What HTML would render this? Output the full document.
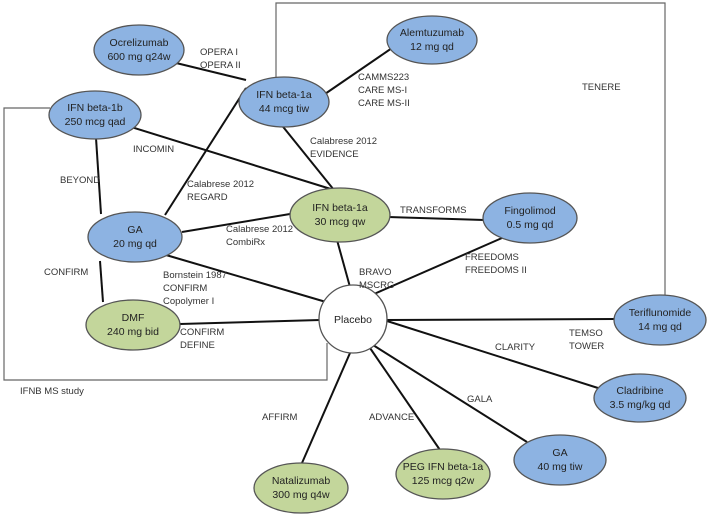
<!DOCTYPE html>
<html><head><meta charset="utf-8"><style>
html,body{margin:0;padding:0;background:#fff}
svg{display:block}
text{font-family:"Liberation Sans",sans-serif;font-size:9.5px;fill:#333}
.n text{font-size:10.5px;fill:#222;text-anchor:middle}
</style></head><body>
<svg width="708" height="514" viewBox="0 0 708 514">
<g fill="none" stroke="#666" stroke-width="1.2">
<polyline points="276,80 276,3 665,3 665,296"/>
<polyline points="50,108 4,108 4,380 327,380 327,343"/>
</g>
<g stroke="#111" stroke-width="2">
<line x1="172" y1="62" x2="246" y2="80"/>
<line x1="322" y1="96" x2="392" y2="48"/>
<line x1="128" y1="126" x2="334" y2="190"/>
<line x1="96" y1="138" x2="101" y2="214"/>
<line x1="100" y1="261" x2="103" y2="302"/>
<line x1="246" y1="88" x2="165" y2="215"/>
<line x1="280" y1="123" x2="334" y2="190"/>
<line x1="182" y1="232" x2="290" y2="214"/>
<line x1="388" y1="217" x2="484" y2="220"/>
<line x1="166" y1="255" x2="326" y2="302"/>
<line x1="337" y1="240" x2="350" y2="287"/>
<line x1="374" y1="294" x2="502" y2="238"/>
<line x1="180" y1="324" x2="320" y2="320"/>
<line x1="386" y1="320" x2="615" y2="319"/>
<line x1="387" y1="321" x2="598" y2="388"/>
<line x1="373" y1="345" x2="527" y2="442"/>
<line x1="370" y1="348" x2="440" y2="450"/>
<line x1="350" y1="353" x2="302" y2="463"/>
</g>
<g class="n" stroke="#555" stroke-width="1.3">
<ellipse cx="139" cy="50" rx="45" ry="25" fill="#8db3e2"/>
<ellipse cx="284" cy="102" rx="45" ry="25" fill="#8db3e2"/>
<ellipse cx="432" cy="40" rx="45" ry="24" fill="#8db3e2"/>
<ellipse cx="95" cy="115" rx="46" ry="24" fill="#8db3e2"/>
<ellipse cx="135" cy="237" rx="47" ry="25" fill="#8db3e2"/>
<ellipse cx="340" cy="215" rx="50" ry="27" fill="#c3d69b"/>
<ellipse cx="530" cy="218" rx="47" ry="25" fill="#8db3e2"/>
<ellipse cx="133" cy="325" rx="47" ry="25" fill="#c3d69b"/>
<circle cx="353" cy="319" r="34" fill="#fff"/>
<ellipse cx="660" cy="320" rx="46" ry="25" fill="#8db3e2"/>
<ellipse cx="640" cy="398" rx="46" ry="24" fill="#8db3e2"/>
<ellipse cx="560" cy="460" rx="46" ry="25" fill="#8db3e2"/>
<ellipse cx="443" cy="474" rx="47" ry="25" fill="#c3d69b"/>
<ellipse cx="301" cy="488" rx="47" ry="25" fill="#c3d69b"/>
</g>
<g class="n">
<text x="139" y="46">Ocrelizumab</text><text x="139" y="60">600 mg q24w</text>
<text x="284" y="98">IFN beta-1a</text><text x="284" y="112">44 mcg tiw</text>
<text x="432" y="36">Alemtuzumab</text><text x="432" y="50">12 mg qd</text>
<text x="95" y="111">IFN beta-1b</text><text x="95" y="125">250 mcg qad</text>
<text x="135" y="233">GA</text><text x="135" y="247">20 mg qd</text>
<text x="340" y="211">IFN beta-1a</text><text x="340" y="225">30 mcg qw</text>
<text x="530" y="214">Fingolimod</text><text x="530" y="228">0.5 mg qd</text>
<text x="133" y="321">DMF</text><text x="133" y="335">240 mg bid</text>
<text x="353" y="323">Placebo</text>
<text x="660" y="316">Teriflunomide</text><text x="660" y="330">14 mg qd</text>
<text x="640" y="394">Cladribine</text><text x="640" y="408">3.5 mg/kg qd</text>
<text x="560" y="456">GA</text><text x="560" y="470">40 mg tiw</text>
<text x="443" y="470">PEG IFN beta-1a</text><text x="443" y="484">125 mcg q2w</text>
<text x="301" y="484">Natalizumab</text><text x="301" y="498">300 mg q4w</text>
</g>
<g>
<text x="200" y="55">OPERA I</text><text x="200" y="68">OPERA II</text>
<text x="358" y="80">CAMMS223</text><text x="358" y="93">CARE MS-I</text><text x="358" y="106">CARE MS-II</text>
<text x="582" y="90">TENERE</text>
<text x="133" y="152">INCOMIN</text>
<text x="60" y="183">BEYOND</text>
<text x="310" y="144">Calabrese 2012</text><text x="310" y="157">EVIDENCE</text>
<text x="187" y="187">Calabrese 2012</text><text x="187" y="200">REGARD</text>
<text x="226" y="232">Calabrese 2012</text><text x="226" y="245">CombiRx</text>
<text x="400" y="213">TRANSFORMS</text>
<text x="44" y="275">CONFIRM</text>
<text x="163" y="278">Bornstein 1987</text><text x="163" y="291">CONFIRM</text><text x="163" y="304">Copolymer I</text>
<text x="359" y="275">BRAVO</text><text x="359" y="288">MSCRG</text>
<text x="465" y="260">FREEDOMS</text><text x="465" y="273">FREEDOMS  II</text>
<text x="180" y="335">CONFIRM</text><text x="180" y="348">DEFINE</text>
<text x="569" y="336">TEMSO</text><text x="569" y="349">TOWER</text>
<text x="495" y="350">CLARITY</text>
<text x="20" y="394">IFNB MS study</text>
<text x="467" y="402">GALA</text>
<text x="369" y="420">ADVANCE</text>
<text x="262" y="420">AFFIRM</text>
</g>
</svg>
</body></html>
